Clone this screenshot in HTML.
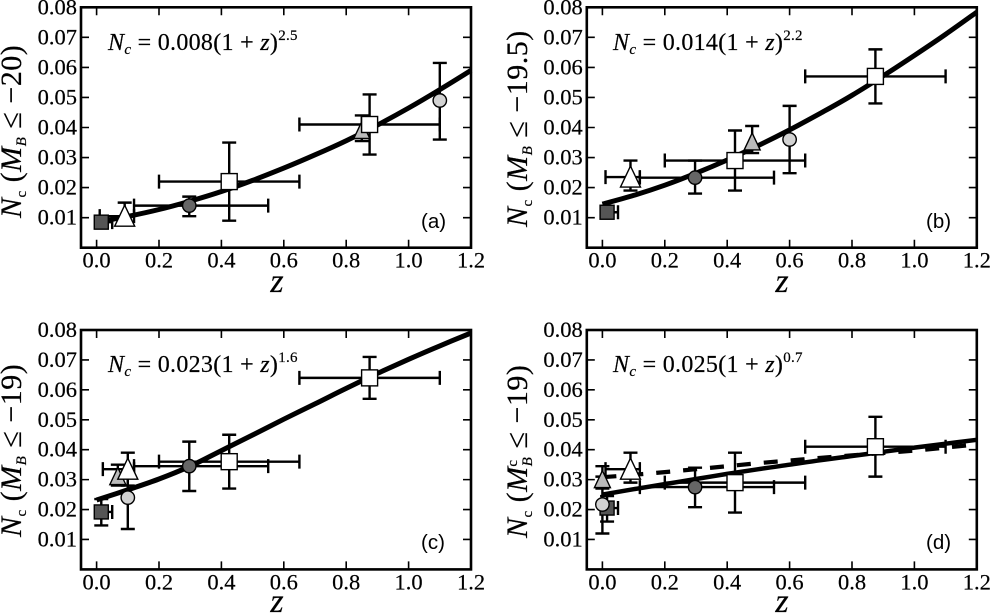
<!DOCTYPE html>
<html lang="en">
<head>
<meta charset="utf-8">
<title>Cluster number density versus redshift</title>
<style>
html,body{margin:0;padding:0;background:#fff;}
svg{display:block;}
text{font-family:"Liberation Serif","DejaVu Serif",serif;fill:#000;stroke:#000;stroke-width:.2px;}
.eq{font-size:24px;letter-spacing:.3px;}
.yl{font-size:30px;letter-spacing:.5px;}
.xl{font-size:34px;font-style:italic;text-anchor:middle;}
.pl{font-family:"Liberation Sans",sans-serif;font-size:20.5px;stroke:none;}
.sm{font-size:15px;}
</style>
</head>
<body>
<svg id="chart" width="990" height="615" viewBox="0 0 990 615" xmlns="http://www.w3.org/2000/svg">
<g id="marks"></g>

<text class="yl" transform="translate(21,218) rotate(-90)"><tspan font-style="italic">N</tspan><tspan class="sm" dy="5">c</tspan><tspan dy="-5"> (</tspan><tspan font-style="italic">M</tspan><tspan class="sm" font-style="italic" dy="5">B</tspan><tspan dy="-5"> ≤ −20)</tspan></text>
<text class="yl" transform="translate(527,227) rotate(-90)"><tspan font-style="italic">N</tspan><tspan class="sm" dy="5">c</tspan><tspan dy="-5"> (</tspan><tspan font-style="italic">M</tspan><tspan class="sm" font-style="italic" dy="5">B</tspan><tspan dy="-5"> ≤ −19.5)</tspan></text>
<text class="yl" transform="translate(21,537) rotate(-90)"><tspan font-style="italic">N</tspan><tspan class="sm" dy="5">c</tspan><tspan dy="-5"> (</tspan><tspan font-style="italic">M</tspan><tspan class="sm" font-style="italic" dy="5">B</tspan><tspan dy="-5"> ≤ −19)</tspan></text>
<text class="yl" transform="translate(527,538) rotate(-90)"><tspan font-style="italic">N</tspan><tspan class="sm" dy="5">c</tspan><tspan dy="-5"> (</tspan><tspan font-style="italic">M</tspan><tspan class="sm" font-style="italic" dy="5">B</tspan><tspan class="sm" dx="-10" dy="-15">c</tspan><tspan dx="3" dy="10"> ≤ −19)</tspan></text>

<text class="xl" x="277" y="292">z</text>
<text class="xl" x="782" y="292">z</text>
<text class="xl" x="277" y="612">z</text>
<text class="xl" x="782" y="612">z</text>

<text class="eq" x="108" y="50"><tspan font-style="italic">N</tspan><tspan class="sm" font-style="italic" dy="4">c</tspan><tspan dy="-4"> = 0.008(1 + </tspan><tspan font-style="italic">z</tspan><tspan>)</tspan><tspan class="sm" dy="-10">2.5</tspan></text>
<text class="eq" x="613" y="50"><tspan font-style="italic">N</tspan><tspan class="sm" font-style="italic" dy="4">c</tspan><tspan dy="-4"> = 0.014(1 + </tspan><tspan font-style="italic">z</tspan><tspan>)</tspan><tspan class="sm" dy="-10">2.2</tspan></text>
<text class="eq" x="108" y="372"><tspan font-style="italic">N</tspan><tspan class="sm" font-style="italic" dy="4">c</tspan><tspan dy="-4"> = 0.023(1 + </tspan><tspan font-style="italic">z</tspan><tspan>)</tspan><tspan class="sm" dy="-10">1.6</tspan></text>
<text class="eq" x="613" y="372"><tspan font-style="italic">N</tspan><tspan class="sm" font-style="italic" dy="4">c</tspan><tspan dy="-4"> = 0.025(1 + </tspan><tspan font-style="italic">z</tspan><tspan>)</tspan><tspan class="sm" dy="-10">0.7</tspan></text>

<text class="pl" x="421" y="228">(a)</text>
<text class="pl" x="926" y="228">(b)</text>
<text class="pl" x="421" y="549">(c)</text>
<text class="pl" x="926" y="549">(d)</text>
</svg>

<script>
// Axis ticks
const zTicks = [0, 0.2, 0.4, 0.6, 0.8, 1.0, 1.2];
const nTicks = [0.01, 0.02, 0.03, 0.04, 0.05, 0.06, 0.07, 0.08];

// Sample order shared by all panels
const samples = ['dark-square', 'dark-circle', 'gray-triangle', 'white-triangle', 'white-square-low', 'white-square-high', 'light-circle'];

// Panel (a) values
const aZ     = [0.015, 0.297, 0.85, 0.09, 0.425, 0.875, 1.1];
const aN     = [0.0085, 0.014, 0.039, 0.0105, 0.022, 0.041, 0.049];
const aZLow  = [0, 0.12, null, 0.01, 0.2, 0.65, null];
const aZHigh = [0.05, 0.55, null, 0.12, 0.65, 1.1, null];
const aNLow  = [0.0075, 0.0105, 0.0355, 0.0075, 0.009, 0.031, 0.036];
const aNHigh = [0.0095, 0.017, 0.044, 0.015, 0.035, 0.051, 0.0615];

// Panel (b)
const bZ     = [0.015, 0.297, 0.48, 0.09, 0.425, 0.875, 0.6];
const bN     = [0.0118, 0.0233, 0.0352, 0.0235, 0.029, 0.057, 0.036];
const bZLow  = [0, 0.12, null, 0.01, 0.2, 0.65, null];
const bZHigh = [0.05, 0.55, null, 0.12, 0.65, 1.1, null];
const bNLow  = [0.0105, 0.018, 0.0315, 0.019, 0.019, 0.048, 0.0248];
const bNHigh = [0.013, 0.029, 0.0405, 0.029, 0.039, 0.066, 0.0472];

// Panel (c)
const cZ     = [0.015, 0.297, 0.068, 0.1, 0.425, 0.875, 0.1];
const cN     = [0.0192, 0.0345, 0.031, 0.0335, 0.036, 0.064, 0.024];
const cZLow  = [0, 0.12, null, 0.02, 0.2, 0.65, null];
const cZHigh = [0.05, 0.55, null, 0.12, 0.65, 1.1, null];
const cNLow  = [0.0147, 0.0262, 0.028, 0.028, 0.027, 0.057, 0.0135];
const cNHigh = [0.0235, 0.0427, 0.035, 0.039, 0.045, 0.071, 0.0335];

// Panel (d)
const dZ     = [0.015, 0.297, 0, 0.09, 0.425, 0.875, 0];
const dN     = [0.0205, 0.0275, 0.03, 0.0335, 0.029, 0.041, 0.0217];
const dZLow  = [0, 0.12, null, 0.01, 0.2, 0.65, null];
const dZHigh = [0.05, 0.55, null, 0.12, 0.65, 1.1, null];
const dNLow  = [0.016, 0.0208, 0.027, 0.029, 0.019, 0.031, 0.012];
const dNHigh = [0.0245, 0.034, 0.0345, 0.039, 0.039, 0.051, 0.031];

// Fit curves
const fitZ  = [0, 0.1, 0.2, 0.3, 0.4, 0.5, 0.6, 0.7, 0.8, 0.9, 1.0, 1.1, 1.2];
const aFitN = [0.0085, 0.0104, 0.0127, 0.0155, 0.0187, 0.0224, 0.0265, 0.0309, 0.0356, 0.0408, 0.0465, 0.0526, 0.059];
const bFitN = [0.0145, 0.0174, 0.0208, 0.0248, 0.0292, 0.034, 0.0392, 0.0448, 0.0507, 0.0572, 0.064, 0.071, 0.0784];
const cFitN = [0.0232, 0.0266, 0.0302, 0.0345, 0.0397, 0.0449, 0.0502, 0.0553, 0.0605, 0.0655, 0.0702, 0.0747, 0.079];
const dFitN = [0.025, 0.0268, 0.0285, 0.0302, 0.0319, 0.0335, 0.035, 0.0365, 0.0379, 0.0393, 0.0407, 0.042, 0.0433];
const dDashN = [0.0308, 0.0316, 0.0325, 0.0335, 0.0345, 0.0355, 0.0364, 0.0373, 0.0381, 0.0389, 0.0397, 0.0407, 0.0418];

const Z_MIN = -0.05, Z_MAX = 1.2, N_MIN = 0, N_MAX = 0.08;
const SVGNS = 'http://www.w3.org/2000/svg';
const root = document.getElementById('marks');

function make(parent, tag, props) {
  const node = document.createElementNS(SVGNS, tag);
  for (const k in props) node.setAttribute(k, props[k]);
  parent.appendChild(node);
  return node;
}

function drawPanel(id, box, z, n, zLow, zHigh, nLow, nHigh, fitN, dashN) {
  const xOf = v => box.left + (v - Z_MIN) / (Z_MAX - Z_MIN) * box.width;
  const yOf = v => box.top + box.height - (v - N_MIN) / (N_MAX - N_MIN) * box.height;
  const right = box.left + box.width, bottom = box.top + box.height;

  const panel = make(root, 'g', {});
  
  

  // Smooth curve through the read values
  const toPath = vals => {
    const pts = vals.map((v, i) => [xOf(fitZ[i]), yOf(v)]);
    let d = 'M' + pts[0][0].toFixed(1) + ' ' + pts[0][1].toFixed(1);
    for (let i = 0; i < pts.length - 1; i++) {
      const p0 = pts[Math.max(i - 1, 0)], p1 = pts[i], p2 = pts[i + 1], p3 = pts[Math.min(i + 2, pts.length - 1)];
      const c1x = p1[0] + (p2[0] - p0[0]) / 6, c1y = p1[1] + (p2[1] - p0[1]) / 6;
      const c2x = p2[0] - (p3[0] - p1[0]) / 6, c2y = p2[1] - (p3[1] - p1[1]) / 6;
      d += ` C${c1x.toFixed(1)} ${c1y.toFixed(1)} ${c2x.toFixed(1)} ${c2y.toFixed(1)} ${p2[0].toFixed(1)} ${p2[1].toFixed(1)}`;
    }
    return d;
  };

  // Error bars first, then fits, then markers
  samples.forEach((kind, i) => {
    const g = make(panel, 'g', {stroke: '#000', 'stroke-width': 2.4, fill: 'none'});
    
    
    const cx = xOf(z[i]), cy = yOf(n[i]);
    const yLo = yOf(nLow[i]), yHi = yOf(nHigh[i]);
    make(g, 'path', {d: `M${cx} ${yLo} L${cx} ${yHi} M${cx - 7} ${yLo} L${cx + 7} ${yLo} M${cx - 7} ${yHi} L${cx + 7} ${yHi}`});
    if (zLow[i] !== null) {
      const xLo = xOf(zLow[i]), xHi = xOf(zHigh[i]);
      make(g, 'path', {d: `M${xLo} ${cy} L${xHi} ${cy} M${xLo} ${cy - 7} L${xLo} ${cy + 7} M${xHi} ${cy - 7} L${xHi} ${cy + 7}`});
    }
  });

  if (dashN) {
    const dash = make(panel, 'path', {d: toPath(dashN), fill: 'none', stroke: '#000', 'stroke-width': 4.2, 'stroke-dasharray': '14 13'});
    
    
  }
  const fit = make(panel, 'path', {d: toPath(fitN), fill: 'none', stroke: '#000', 'stroke-width': dashN ? 4.5 : 5});
  
  

  samples.forEach((kind, i) => {
    const cx = xOf(z[i]), cy = yOf(n[i]);
    const edge = {stroke: '#000', 'stroke-width': 1.4};
    let mark;
    if (kind === 'dark-square') {
      mark = make(panel, 'rect', {x: cx - 7, y: cy - 7, width: 14, height: 14, fill: '#555', ...edge});
    } else if (kind === 'white-square-low' || kind === 'white-square-high') {
      mark = make(panel, 'rect', {x: cx - 8, y: cy - 8, width: 16, height: 16, fill: '#fff', ...edge});
    } else if (kind === 'dark-circle') {
      mark = make(panel, 'circle', {cx: cx, cy: cy, r: 6.7, fill: '#666', ...edge});
    } else if (kind === 'light-circle') {
      mark = make(panel, 'circle', {cx: cx, cy: cy, r: 6.7, fill: '#d2d2d2', ...edge});
    } else {
      const half = kind === 'white-triangle' ? 10 : 8;
      const fill = kind === 'white-triangle' ? '#fff' : '#bbb';
      mark = make(panel, 'polygon', {points: `${cx},${cy - half - 1} ${cx - half},${cy + half} ${cx + half},${cy + half}`, fill: fill, ...edge});
    }
    
    
  });

  // Ticks on all four sides and labels
  zTicks.forEach(t => {
    const x = xOf(t);
    const tick = make(panel, 'path', {d: `M${x} ${bottom} L${x} ${bottom - 8} M${x} ${box.top} L${x} ${box.top + 8}`, stroke: '#000', 'stroke-width': 1.6});
    
    
    const label = make(panel, 'text', {x: x, y: bottom + 20, 'text-anchor': 'middle', 'font-size': 22.5});
    label.textContent = t.toFixed(1);
    
    
  });
  nTicks.forEach(t => {
    const y = yOf(t);
    const tick = make(panel, 'path', {d: `M${box.left} ${y} L${box.left + 8} ${y} M${right} ${y} L${right - 8} ${y}`, stroke: '#000', 'stroke-width': 1.6});
    
    
    const label = make(panel, 'text', {x: box.left - 4, y: y + 7, 'text-anchor': 'end', 'font-size': 22.5});
    label.textContent = t.toFixed(2);
    
    
  });

  const frame = make(panel, 'rect', {x: box.left, y: box.top, width: box.width, height: box.height, fill: 'none', stroke: '#000', 'stroke-width': 2.6});
  
  
}

drawPanel('a', {left: 81, top: 7.3, width: 390, height: 240.4}, aZ, aN, aZLow, aZHigh, aNLow, aNHigh, aFitN);
drawPanel('b', {left: 586.8, top: 7.3, width: 390, height: 240.4}, bZ, bN, bZLow, bZHigh, bNLow, bNHigh, bFitN);
drawPanel('c', {left: 81, top: 330, width: 390, height: 239.4}, cZ, cN, cZLow, cZHigh, cNLow, cNHigh, cFitN);
drawPanel('d', {left: 586.8, top: 330, width: 390, height: 239.4}, dZ, dN, dZLow, dZHigh, dNLow, dNHigh, dFitN, dDashN);
</script>
</body>
</html>
